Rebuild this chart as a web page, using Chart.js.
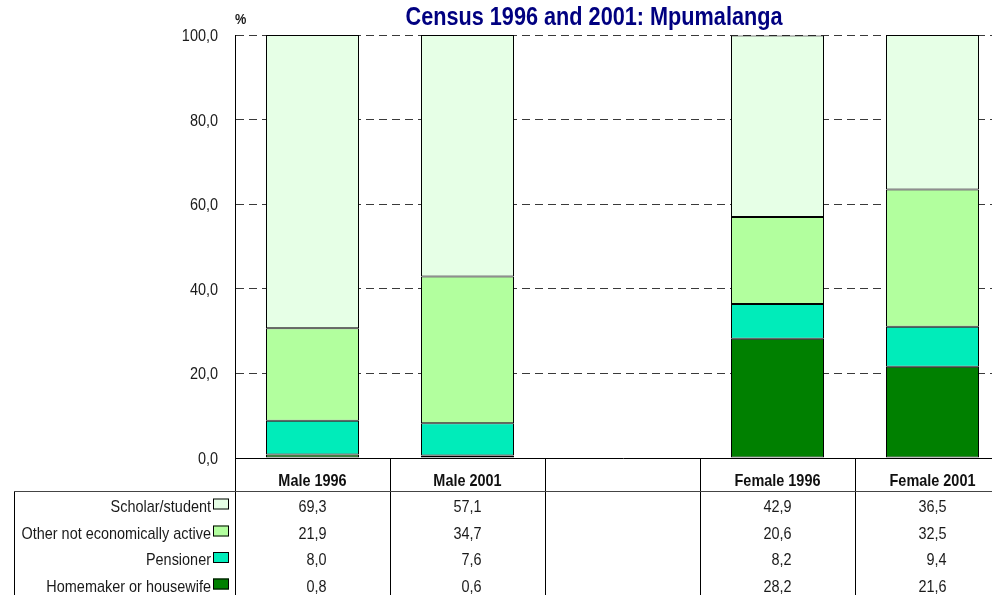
<!DOCTYPE html>
<html>
<head>
<meta charset="utf-8">
<script src="https://cdn.jsdelivr.net/npm/chart.js@4/dist/chart.umd.min.js"></script>
<style>
  html, body { margin: 0; padding: 0; background: #fff; overflow: hidden; }
  #wrap { width: 1012px; height: 595px; }
</style>
</head>
<body>
<div id="wrap"><canvas id="myChart" width="1012" height="595"></canvas></div>
<script>
// categories (the empty one is a spacer between the sexes)
const categories = ['Male 1996', 'Male 2001', '', 'Female 1996', 'Female 2001'];

// series values, bottom of the stack first
const homemaker = [0.8, 0.6, null, 28.2, 21.6];
const pensioner = [8.0, 7.6, null, 8.2, 9.4];
const otherNotActive = [21.9, 34.7, null, 20.6, 32.5];
const scholar = [69.3, 57.1, null, 42.9, 36.5];

const seriesNames = ['Homemaker or housewife', 'Pensioner', 'Other not economically active', 'Scholar/student'];
const seriesColors = ['#008000', '#00ECBA', '#B2FF9E', '#E6FFE6'];

const yTicks = [0, 20, 40, 60, 80, 100];

const FONT = "'Liberation Sans', Arial, sans-serif";
const NARROW = 0.85; // squeeze Liberation Sans to look like Arial Narrow

function fmt(v) {
  return v.toFixed(1).replace('.', ',');
}

// text helper, squeezed horizontally
function text(ctx, str, x, y, font, align, color) {
  ctx.save();
  ctx.translate(x, y);
  ctx.scale(NARROW, 1);
  ctx.font = font;
  ctx.textAlign = align;
  ctx.textBaseline = 'alphabetic';
  ctx.fillStyle = color;
  ctx.fillText(str, 0, 0);
  ctx.restore();
}

// draws the title, the y labels, the % label and the data table under the bars
const tablePlugin = {
  id: 'dataTable',
  afterDatasetsDraw(chart) {
    const ctx = chart.ctx;
    const area = chart.chartArea;
    const x = chart.scales.x;
    const yScale = chart.scales.y;
    const right = chart.width;
    const step = x.getPixelForValue(1) - x.getPixelForValue(0);

    ctx.save();
    // zero line
    ctx.strokeStyle = '#000';
    ctx.lineWidth = 1;
    ctx.beginPath();
    ctx.moveTo(area.left, area.bottom + 0.5);
    ctx.lineTo(right, area.bottom + 0.5);
    ctx.stroke();

    // title
    text(ctx, 'Census 1996 and 2001: Mpumalanga', 594, 25, 'bold 25.5px ' + FONT, 'center', '#000080');
    text(ctx, '%', 235, 24, 'bold 15px ' + FONT, 'left', '#1a1a1a');

    // y tick labels
    yTicks.forEach(v => {
      text(ctx, fmt(v), 218, yScale.getPixelForValue(v) + 6, '17px ' + FONT, 'right', '#1a1a1a');
    });

    // table grid
    const headTop = area.bottom;
    const headBottom = 491;
    ctx.strokeStyle = '#000';
    ctx.beginPath();
    ctx.moveTo(area.left + 0.5, area.top);
    ctx.lineTo(area.left + 0.5, 595);
    for (let i = 0; i < categories.length; i++) {
      const bx = Math.round(x.getPixelForValue(i) + step / 2) + 0.5;
      ctx.moveTo(bx, headTop);
      ctx.lineTo(bx, 595);
    }
    ctx.moveTo(14.5, headBottom);
    ctx.lineTo(14.5, 595);
    ctx.stroke();
    ctx.strokeStyle = '#444';
    ctx.beginPath();
    ctx.moveTo(14, headBottom + 0.5);
    ctx.lineTo(right, headBottom + 0.5);
    ctx.stroke();

    // header
    categories.forEach((c, i) => {
      text(ctx, c, x.getPixelForValue(i), 485.5, 'bold 17px ' + FONT, 'center', '#111');
    });

    // rows, top row is the top of the stack
    const rowBase = [511.5, 538.5, 565, 591.5];
    const datasets = chart.data.datasets.slice().reverse();
    datasets.forEach((ds, r) => {
      const y = rowBase[r];
      text(ctx, ds.label, 211, y, '17px ' + FONT, 'right', '#1a1a1a');
      ctx.fillStyle = ds.backgroundColor;
      ctx.fillRect(213, y - 13, 16, 11);
      ctx.strokeStyle = '#000';
      ctx.lineWidth = 1;
      ctx.strokeRect(213.5, y - 12.5, 15, 10);
      ds.data.forEach((v, i) => {
        if (v === null) return;
        text(ctx, fmt(v), x.getPixelForValue(i) + 14, y, '17px ' + FONT, 'right', '#1a1a1a');
      });
    });
    ctx.restore();
  }
};

const ctx = document.getElementById('myChart').getContext('2d');
const myChart = new Chart(ctx, {
  type: 'bar',
  data: {
    labels: categories,
    datasets: [homemaker, pensioner, otherNotActive, scholar].map((d, i) => ({
      label: seriesNames[i],
      data: d,
      backgroundColor: seriesColors[i],
      borderColor: '#000',
      borderWidth: 1,
      borderSkipped: false,
      barPercentage: 0.6,
      categoryPercentage: 1
    }))
  },
  options: {
    responsive: false,
    animation: false,
    devicePixelRatio: 1,
    layout: { padding: { top: 35, bottom: 137, left: 0, right: 2 } },
    plugins: {
      legend: { display: false },
      title: { display: false },
      tooltip: { enabled: false }
    },
    scales: {
      x: {
        stacked: true,
        display: false
      },
      y: {
        stacked: true,
        min: 0,
        max: 100,
        afterFit(scale) { scale.width = 235; },
        afterBuildTicks(scale) { scale.ticks = yTicks.map(v => ({ value: v })); },
        ticks: { display: false },
        grid: {
          color: '#3a3a3a',
          drawTicks: false
        },
        border: { display: true, color: '#000', dash: [8, 5] }
      }
    }
  },
  plugins: [tablePlugin]
});
</script>
</body>
</html>
